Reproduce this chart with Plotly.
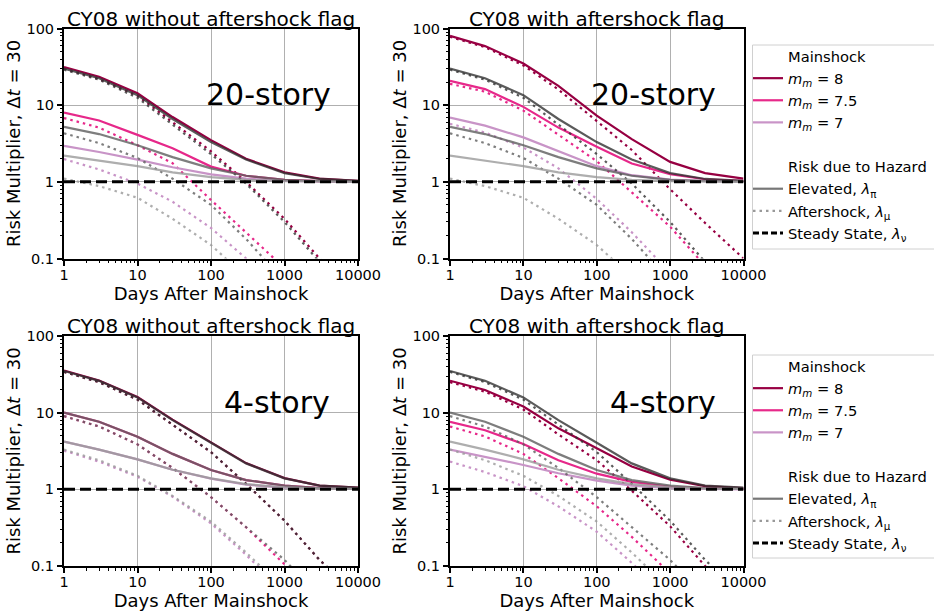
import plotly.graph_objects as go

# ---------------- data ----------------
days = [1, 3, 10, 30, 100, 300, 1000, 3000, 10000]

# reference (gray) curves, 20-story
g20_elev_8 = [30, 22.5, 13.5, 6.6, 3.3, 1.95, 1.3, 1.09, 1.03]
g20_aft_8 = [29, 21.5, 12.5, 5.6, 2.3, 0.95, 0.3, 0.09, 0.03]
g20_elev_75 = [5.2, 4.2, 3.0, 2.1, 1.5, 1.2, 1.06, 1.02, 1.01]
g20_aft_75 = [4.3, 3.2, 2.05, 1.1, 0.5, 0.18, 0.05, 0.017, 0.006]
g20_elev_7 = [2.2, 1.9, 1.6, 1.33, 1.15, 1.06, 1.02, 1.01, 1.0]
g20_aft_7 = [1.1, 0.88, 0.62, 0.33, 0.15, 0.06, 0.02, 0.006, 0.002]

# reference (gray) curves, 4-story
g4_elev_8 = [35, 26, 15.8, 8.0, 4.06, 2.18, 1.39, 1.12, 1.05]
g4_aft_8 = [34, 25, 14.8, 7.0, 3.06, 1.18, 0.39, 0.12, 0.04]
g4_elev_75 = [10, 7.6, 4.86, 2.9, 1.79, 1.32, 1.12, 1.04, 1.02]
g4_aft_75 = [9.0, 6.6, 3.86, 1.9, 0.79, 0.32, 0.12, 0.04, 0.013]
g4_elev_7 = [4.2, 3.3, 2.46, 1.8, 1.39, 1.17, 1.06, 1.02, 1.01]
g4_aft_7 = [3.3, 2.4, 1.5, 0.82, 0.38, 0.15, 0.05, 0.015, 0.005]

# 20-story, CY08 without aftershock flag
tl_elev_8 = [31.5, 23.5, 14.3, 7.0, 3.5, 2.0, 1.33, 1.1, 1.03]
tl_aft_8 = [30, 22, 13.3, 6.0, 2.5, 1.0, 0.33, 0.1, 0.03]
tl_elev_75 = [8.0, 6.3, 4.1, 2.75, 1.58, 1.2, 1.06, 1.02, 1.01]
tl_aft_75 = [6.8, 5.1, 3.0, 1.75, 0.58, 0.22, 0.075, 0.024, 0.008]
tl_elev_7 = [2.95, 2.45, 1.95, 1.55, 1.25, 1.1, 1.03, 1.01, 1.0]
tl_aft_7 = [1.98, 1.45, 0.95, 0.55, 0.25, 0.1, 0.03, 0.01, 0.003]

# 20-story, CY08 with aftershock flag
tr_elev_8 = [80, 59, 35, 17.9, 7.3, 3.6, 1.82, 1.3, 1.1]
tr_aft_8 = [78, 57, 33, 16, 6.2, 2.6, 0.8, 0.29, 0.1]
tr_elev_75 = [20.8, 16.2, 9.5, 5.1, 2.86, 1.73, 1.26, 1.08, 1.03]
tr_aft_75 = [19.0, 15, 8.5, 4.1, 1.86, 0.73, 0.26, 0.08, 0.025]
tr_elev_7 = [6.9, 5.4, 3.8, 2.5, 1.6, 1.22, 1.07, 1.02, 1.01]
tr_aft_7 = [5.7, 4.4, 2.8, 1.5, 0.6, 0.22, 0.065, 0.02, 0.006]

# 4-story, CY08 without aftershock flag
bl_elev_8 = [35.5, 26.3, 16, 8.1, 4.1, 2.2, 1.4, 1.12, 1.05]
bl_aft_8 = [34, 25, 14.8, 7.0, 3.05, 1.18, 0.39, 0.12, 0.04]
bl_elev_75 = [10, 7.6, 4.86, 2.9, 1.79, 1.32, 1.12, 1.04, 1.02]
bl_aft_75 = [9.0, 6.6, 3.86, 1.9, 0.79, 0.32, 0.105, 0.035, 0.012]
bl_elev_7 = [4.2, 3.3, 2.46, 1.8, 1.38, 1.15, 1.05, 1.02, 1.01]
bl_aft_7 = [3.2, 2.3, 1.46, 0.8, 0.36, 0.14, 0.045, 0.014, 0.005]

# 4-story, CY08 with aftershock flag
br_elev_8 = [26.1, 19.8, 12, 6.25, 3.43, 1.98, 1.34, 1.1, 1.04]
br_aft_8 = [25, 18.8, 11, 5.2, 2.4, 0.96, 0.33, 0.1, 0.03]
br_elev_75 = [7.6, 5.9, 3.9, 2.4, 1.6, 1.25, 1.08, 1.03, 1.01]
br_aft_75 = [6.6, 4.9, 2.9, 1.4, 0.6, 0.24, 0.08, 0.025, 0.008]
br_elev_7 = [3.3, 2.66, 2.08, 1.62, 1.3, 1.12, 1.04, 1.01, 1.0]
br_aft_7 = [2.3, 1.68, 1.1, 0.6, 0.28, 0.11, 0.035, 0.011, 0.004]

steady_x = [1, 10000]
steady_y = [1, 1]

panel_titles = ["CY08 without aftershock flag", "CY08 with aftershock flag",
                "CY08 without aftershock flag", "CY08 with aftershock flag"]
story_labels = ["20-story", "20-story", "4-story", "4-story"]
mag_labels = ["<i>m</i><sub><i>m</i></sub> = 8", "<i>m</i><sub><i>m</i></sub> = 7.5",
              "<i>m</i><sub><i>m</i></sub> = 7"]
hazard_labels = ["Elevated, <i>λ</i><sub>π</sub>", "Aftershock, <i>λ</i><sub>μ</sub>",
                 "Steady State, <i>λ</i><sub>ν</sub>"]
x_tickvals = [1, 10, 100, 1000, 10000]
x_ticktext = ["1", "10", "100", "1000", "10000"]
y_tickvals = [0.1, 1, 10, 100]
y_ticktext = ["0.1", "1", "10", "100"]

# ---------------- styles ----------------
FONT = "DejaVu Sans"
mag_colors = ["#980043", "#e7298a", "#c994c7"]
gray_colors = ["#333333", "#5e5e5e", "#9a9a9a"]
DOT = "2.5px,4px"
LW = 2.2

W, H = 934, 612
def fx(px):
    return px / W
def fy(py):
    return 1 - py / H

panels = [
    dict(xd=[fx(64), fx(358)], yd=[fy(258.5), fy(28.5)],
         col=[(tl_elev_8, tl_aft_8), (tl_elev_75, tl_aft_75), (tl_elev_7, tl_aft_7)],
         gray=[(g20_elev_8, g20_aft_8), (g20_elev_75, g20_aft_75), (g20_elev_7, g20_aft_7)]),
    dict(xd=[fx(450), fx(743.5)], yd=[fy(258.5), fy(28.5)],
         col=[(tr_elev_8, tr_aft_8), (tr_elev_75, tr_aft_75), (tr_elev_7, tr_aft_7)],
         gray=[(g20_elev_8, g20_aft_8), (g20_elev_75, g20_aft_75), (g20_elev_7, g20_aft_7)]),
    dict(xd=[fx(64), fx(358)], yd=[fy(566), fy(336)],
         col=[(bl_elev_8, bl_aft_8), (bl_elev_75, bl_aft_75), (bl_elev_7, bl_aft_7)],
         gray=[(g4_elev_8, g4_aft_8), (g4_elev_75, g4_aft_75), (g4_elev_7, g4_aft_7)]),
    dict(xd=[fx(450), fx(743.5)], yd=[fy(566), fy(336)],
         col=[(br_elev_8, br_aft_8), (br_elev_75, br_aft_75), (br_elev_7, br_aft_7)],
         gray=[(g4_elev_8, g4_aft_8), (g4_elev_75, g4_aft_75), (g4_elev_7, g4_aft_7)]),
]

fig = go.Figure()
layout = dict(width=W, height=H, margin=dict(l=0, r=0, t=0, b=0, autoexpand=False),
              plot_bgcolor="white", paper_bgcolor="white",
              font=dict(family=FONT, size=14, color="black"),
              showlegend=True, annotations=[], shapes=[])

for i, p in enumerate(panels):
    k = "" if i == 0 else str(i + 1)
    xa, ya = "x" + k, "y" + k
    for (elev, aft), c in zip(p["col"], mag_colors):
        fig.add_trace(go.Scatter(x=days, y=aft, mode="lines", xaxis=xa, yaxis=ya,
                                 line=dict(color=c, width=LW, dash=DOT), showlegend=False))
        fig.add_trace(go.Scatter(x=days, y=elev, mode="lines", xaxis=xa, yaxis=ya,
                                 line=dict(color=c, width=LW), showlegend=False))
    for (elev, aft), c in zip(p["gray"], gray_colors):
        fig.add_trace(go.Scatter(x=days, y=aft, mode="lines", xaxis=xa, yaxis=ya, opacity=0.8,
                                 line=dict(color=c, width=LW, dash=DOT), showlegend=False))
        fig.add_trace(go.Scatter(x=days, y=elev, mode="lines", xaxis=xa, yaxis=ya, opacity=0.8,
                                 line=dict(color=c, width=LW), showlegend=False))
    fig.add_trace(go.Scatter(x=steady_x, y=steady_y, mode="lines", xaxis=xa, yaxis=ya,
                             line=dict(color="black", width=3, dash="11px,5px"), showlegend=False))

    axcommon = dict(showline=True, linecolor="black", linewidth=2, mirror=True,
                    ticks="outside", ticklen=5, tickwidth=1.5, tickcolor="black",
                    showgrid=True, gridcolor="#b0b0b0", gridwidth=1, zeroline=False,
                    automargin=False,
                    tickfont=dict(family=FONT, size=14.5, color="black"),
                    minor=dict(ticks="outside", ticklen=2.5, tickwidth=1, tickcolor="black",
                               showgrid=False, dtick="D1"))
    layout["xaxis" + k] = dict(axcommon, type="log", range=[0, 4], domain=p["xd"],
                               anchor=ya, tickmode="array", tickvals=x_tickvals, ticktext=x_ticktext,
                               ticklabelstandoff=-3,
                               title=dict(text="Days After Mainshock", standoff=2,
                                          font=dict(family=FONT, size=18, color="black")))
    layout["yaxis" + k] = dict(axcommon, type="log", range=[-1, 2], domain=p["yd"],
                               anchor=xa, tickmode="array", tickvals=y_tickvals, ticktext=y_ticktext,
                               title=dict(text="Risk Multiplier, Δ<i>t</i> = 30", standoff=1,
                                          font=dict(family=FONT, size=18, color="black")))
    layout["annotations"].append(dict(text=panel_titles[i], xref=xa + " domain", yref=ya + " domain",
                                      x=0.5, y=1, xanchor="center", yanchor="bottom", yshift=-4,
                                      showarrow=False, font=dict(family=FONT, size=20, color="black")))
    sx = 0.694 if i < 2 else 0.725
    layout["annotations"].append(dict(text=story_labels[i], xref=xa + " domain", yref=ya + " domain",
                                      x=sx, y=0.712, xanchor="center", yanchor="middle",
                                      showarrow=False, font=dict(family=FONT, size=30, color="black")))

# legend proxies
for li, lg in enumerate(["legend", "legend2"]):
    def proxy(name, color, dash="solid", width=LW):
        fig.add_trace(go.Scatter(x=[None], y=[None], mode="lines", name=name, legend=lg,
                                 line=dict(color=color, width=width, dash=dash), showlegend=True))
    proxy("Mainshock", "rgba(0,0,0,0)")
    for lab, c in zip(mag_labels, mag_colors):
        proxy(lab, c)
    proxy(" ", "rgba(0,0,0,0)")
    proxy("Risk due to Hazard", "rgba(0,0,0,0)")
    proxy(hazard_labels[0], "#777777")
    proxy(hazard_labels[1], "#999999", DOT)
    proxy(hazard_labels[2], "black", "6px,3px", 3)

legcommon = dict(xanchor="left", yanchor="top", bgcolor="rgba(0,0,0,0)", borderwidth=0,
                 itemwidth=30, traceorder="normal",
                 font=dict(family=FONT, size=14.7, color="black"))
layout["legend"] = dict(legcommon, x=fx(748), y=fy(40))
layout["legend2"] = dict(legcommon, x=fx(748), y=fy(350))
for top, bot in [(45, 249), (355, 558)]:
    layout["shapes"].append(dict(type="rect", xref="paper", yref="paper",
                                 x0=fx(752.5), x1=fx(940), y0=fy(bot), y1=fy(top),
                                 line=dict(color="#d0d0d0", width=1), fillcolor="white", layer="below"))

fig.update_layout(**layout)
fig.write_html("out.html", config={"displayModeBar": False},
               post_script="document.body.style.margin='0';")
